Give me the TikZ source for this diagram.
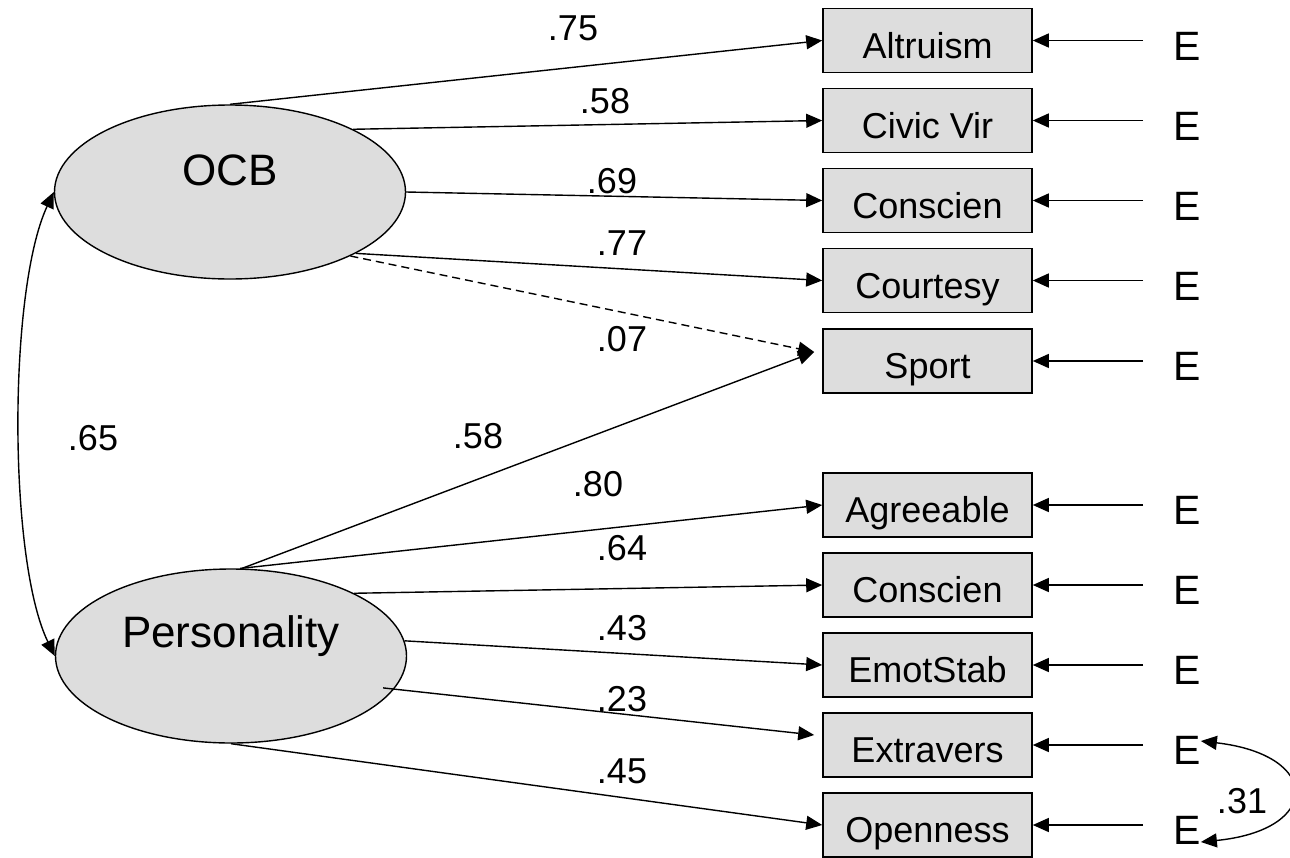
\documentclass[tikz,border=0pt]{standalone}
\usepackage{fontspec}
\setmainfont{Liberation Sans}
\usetikzlibrary{shapes.geometric,arrows.meta}
\definecolor{boxgray}{RGB}{221,221,221}
\begin{document}
\begin{tikzpicture}[x=1pt,y=-1pt,
 arr/.style={-{Triangle[length=16pt,width=14pt]}, line width=1.4pt},
 dbl/.style={{Triangle[length=16pt,width=14pt]}-{Triangle[length=16pt,width=14pt]}, line width=1.4pt},
 obs/.style={draw, line width=1.6pt, fill=boxgray, minimum width=209pt, minimum height=64pt, inner sep=0pt, font=\fontsize{36}{40}\selectfont, text height=35pt, text depth=0pt},
 lat/.style={draw, ellipse, line width=1.4pt, fill=boxgray, minimum width=351pt, minimum height=174pt, inner sep=0pt},
 err/.style={inner sep=0pt, font=\fontsize{41}{45}\selectfont, text height=29pt, text depth=0pt},
 coef/.style={inner sep=0pt, font=\fontsize{36}{40}\selectfont, text height=26pt, text depth=0pt},
 latlab/.style={font=\fontsize{44}{48}\selectfont, text height=32pt, text depth=0pt, inner sep=0pt}
]
\useasboundingbox (0,0) rectangle (1290,857);

% latent variables
\node[lat, label={[latlab, yshift=23pt]center:OCB}] (ocb) at (230,192) {};
\node[lat, label={[latlab, yshift=25pt]center:Personality}] (pers) at (231,656) {};

% observed variables
\node[obs] (b1) at (927.5,40.5) {Altruism};
\node[obs] (b2) at (927.5,120.5) {Civic Vir};
\node[obs] (b3) at (927.5,200.5) {Conscien};
\node[obs] (b4) at (927.5,280.5) {Courtesy};
\node[obs] (b5) at (927.5,361) {Sport};
\node[obs] (b6) at (927.5,505) {Agreeable};
\node[obs] (b7) at (927.5,585) {Conscien};
\node[obs] (b8) at (927.5,665) {EmotStab};
\node[obs] (b9) at (927.5,745) {Extravers};
\node[obs] (b10) at (927.5,825) {Openness};

% error terms
\foreach \i/\y in {1/40.5,2/120.5,3/200.5,4/280.5,5/361,6/505,7/585,8/665,9/745,10/825}{
  \node[err] (e\i) at (1187,\y+5) {E};
  \draw[arr] ([xshift=-30pt]e\i.west |- b\i.east) -- (b\i.east);
}

% loadings OCB
\draw[arr] (ocb.north) -- (b1.west);
\draw[arr] (ocb.27) -- (b2.west);
\draw[arr] (ocb.east) -- (b3.west);
\draw[arr] (ocb.-26) -- (b4.west);
\draw[arr, dash pattern=on 8pt off 5pt] (ocb.-28) -- ([xshift=-8pt,yshift=9pt]b5.west);

% loadings Personality
\draw[arr] (pers.83) -- ([xshift=-8pt,yshift=9pt]b5.west);
\draw[arr] (pers.84) -- (b6.west);
\draw[arr] (pers.27) -- (b7.west);
\draw[arr] (pers.5) -- (b8.west);
\draw[arr] ([xshift=-12pt]pers.-11) -- ([xshift=-8pt,yshift=10pt]b9.west);
\draw[arr] (pers.south) -- (b10.west);

% correlations
\draw[dbl] (ocb.west) .. controls (8,290) and (8,560) .. (pers.west);
\draw[dbl] ([yshift=9pt]e9.east) .. controls (1322,755) and (1322,830) .. ([yshift=-12pt]e10.east);

% coefficients
\node[coef] (c1) at (573,27) {.75};
\node[coef] (c2) at (605,100) {.58};
\node[coef] (c3) at (612,180) {.69};
\node[coef] (c4) at (622,242) {.77};
\node[coef] (c5) at (622,338) {.07};
\node[coef] (c6) at (478,435) {.58};
\node[coef] (c7) at (598,483) {.80};
\node[coef] (c8) at (622,547) {.64};
\node[coef] (c9) at (622,627) {.43};
\node[coef] (c10) at (622,698) {.23};
\node[coef] (c11) at (622,770) {.45};
\node[coef] (c12) at (93,437) {.65};
\node[coef] (c13) at (1242,800) {.31};
\end{tikzpicture}
\end{document}
